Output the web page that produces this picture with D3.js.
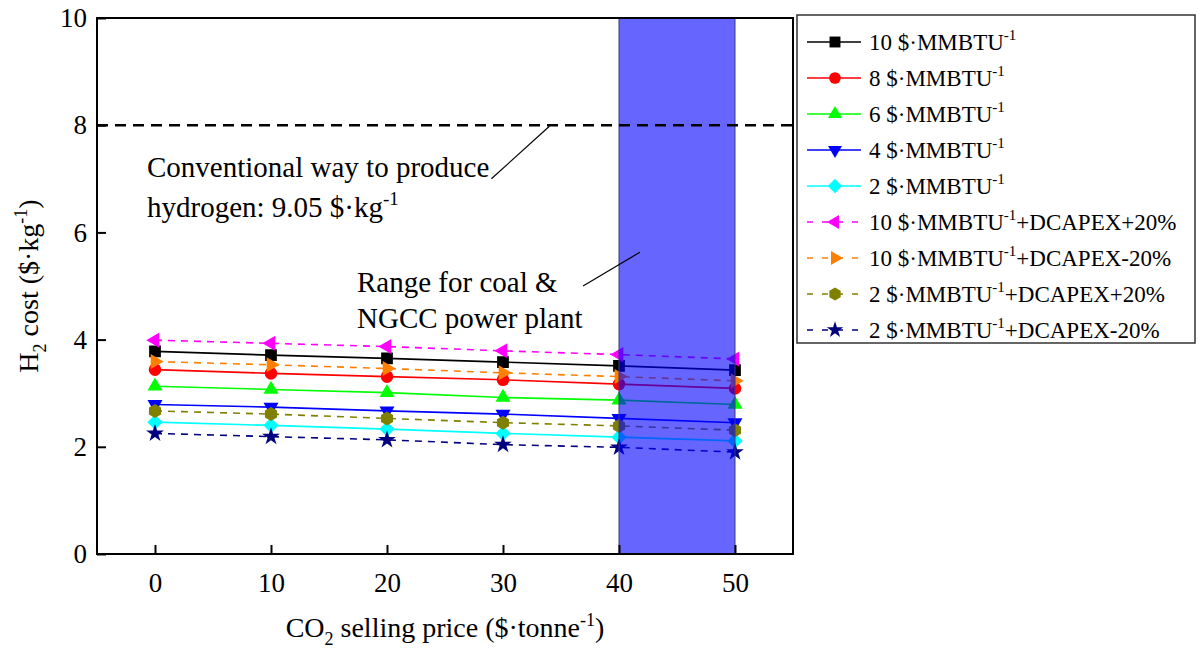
<!DOCTYPE html>
<html>
<head>
<meta charset="utf-8">
<script src="https://cdn.jsdelivr.net/npm/d3@7"></script>
<style>
  html, body { margin: 0; padding: 0; background: #fff; }
  svg, svg text { font-family: "Liberation Serif", "Times New Roman", "DejaVu Serif", serif; }
</style>
</head>
<body>
<svg id="chart" width="1198" height="648"></svg>
<script>
// CO2 selling price ($/tonne)
const prices = [0, 10, 20, 30, 40, 50];

// H2 cost ($/kg)
const ng10      = [3.78, 3.71, 3.65, 3.58, 3.51, 3.43];
const ng8       = [3.44, 3.37, 3.31, 3.25, 3.17, 3.09];
const ng6       = [3.13, 3.07, 3.01, 2.92, 2.87, 2.79];
const ng4       = [2.79, 2.74, 2.67, 2.61, 2.53, 2.45];
const ng2       = [2.46, 2.40, 2.33, 2.25, 2.18, 2.11];
const ng10Plus  = [3.99, 3.93, 3.87, 3.79, 3.72, 3.64];
const ng10Minus = [3.59, 3.53, 3.46, 3.38, 3.31, 3.23];
const ng2Plus   = [2.67, 2.61, 2.53, 2.45, 2.39, 2.31];
const ng2Minus  = [2.25, 2.19, 2.13, 2.04, 1.99, 1.90];

const seriesNames = [
  ["10 $·MMBTU", "-1", ""],
  ["8 $·MMBTU", "-1", ""],
  ["6 $·MMBTU", "-1", ""],
  ["4 $·MMBTU", "-1", ""],
  ["2 $·MMBTU", "-1", ""],
  ["10 $·MMBTU", "-1", "+DCAPEX+20%"],
  ["10 $·MMBTU", "-1", "+DCAPEX-20%"],
  ["2 $·MMBTU", "-1", "+DCAPEX+20%"],
  ["2 $·MMBTU", "-1", "+DCAPEX-20%"]
];
const seriesValues = [ng10, ng8, ng6, ng4, ng2, ng10Plus, ng10Minus, ng2Plus, ng2Minus];
const seriesColors = ["#000000", "#ff0000", "#00ff00", "#0000ff", "#00ffff",
                      "#ff00ff", "#ff8000", "#808000", "#000080"];
const seriesMarkers = ["square", "circle", "triUp", "triDown", "diamond",
                       "triLeft", "triRight", "hexagon", "star"];
const seriesDashed = [false, false, false, false, false, true, true, true, true];

const conventionalLine = 8;      // dashed reference level
const rangeBand = [40, 50];      // coal & NGCC range
const xTicks = [0, 10, 20, 30, 40, 50];
const yTicks = [0, 2, 4, 6, 8, 10];

const FONT = "'Liberation Serif', 'Times New Roman', 'DejaVu Serif', serif";

const svg = d3.select("#chart");
const margin = { left: 97, top: 18, right: 405, bottom: 94 };
const W = 1198, H = 648;
const innerW = W - margin.left - margin.right;
const innerH = H - margin.top - margin.bottom;

const x = d3.scaleLinear().domain([-5, 55]).range([0, innerW]);
const y = d3.scaleLinear().domain([0, 10]).range([innerH, 0]);

// marker shapes
function markerPath(kind, s) {
  const tri = (angle) => {
    const r = s * 0.62;
    const pts = [0, 1, 2].map(i => {
      const a = angle + i * 2 * Math.PI / 3;
      return [r * Math.cos(a), r * Math.sin(a)];
    });
    return "M" + pts.map(p => p.join(",")).join("L") + "Z";
  };
  switch (kind) {
    case "square": { const h = s * 0.42; return `M${-h},${-h}H${h}V${h}H${-h}Z`; }
    case "circle": return d3.symbol(d3.symbolCircle, Math.PI * (s * 0.45) ** 2)();
    case "triUp": return tri(-Math.PI / 2);
    case "triDown": return tri(Math.PI / 2);
    case "triLeft": return tri(Math.PI);
    case "triRight": return tri(0);
    case "diamond": { const h = s * 0.55; return `M0,${-h}L${h},0L0,${h}L${-h},0Z`; }
    case "hexagon": {
      const r = s * 0.5;
      const pts = d3.range(6).map(i => {
        const a = Math.PI / 6 + i * Math.PI / 3;
        return [r * Math.cos(a), r * Math.sin(a)];
      });
      return "M" + pts.map(p => p.join(",")).join("L") + "Z";
    }
    case "star": return d3.symbol(d3.symbolStar, s * s * 0.5)();
  }
}

const root = svg.append("g").attr("transform", `translate(${margin.left},${margin.top})`);

const line = d3.line().x((d, i) => x(prices[i])).y(d => y(d));

// series lines
seriesValues.forEach((vals, k) => {
  root.append("path")
    .attr("d", line(vals))
    .attr("fill", "none")
    .attr("stroke", seriesColors[k])
    .attr("stroke-width", 1.6)
    .attr("stroke-dasharray", seriesDashed[k] ? "7,6" : null);
});

// markers
seriesValues.forEach((vals, k) => {
  root.selectAll(null).data(vals).enter().append("path")
    .attr("transform", (d, i) => `translate(${x(prices[i])},${y(d)})`)
    .attr("d", markerPath(seriesMarkers[k], 14))
    .attr("fill", seriesColors[k]);
});

// coal & NGCC range band (drawn over the lines, semi-transparent)
root.append("rect")
  .attr("x", x(rangeBand[0])).attr("y", 0)
  .attr("width", x(rangeBand[1]) - x(rangeBand[0]))
  .attr("height", innerH)
  .attr("fill", "#0000ff").attr("fill-opacity", 0.6)
  .attr("stroke", "#3a3a7a").attr("stroke-width", 1);

// conventional route reference
root.append("line")
  .attr("x1", 0).attr("x2", innerW)
  .attr("y1", y(conventionalLine)).attr("y2", y(conventionalLine))
  .attr("stroke", "#000").attr("stroke-width", 2.6)
  .attr("stroke-dasharray", "11,7");

// axes (ticks pointing inwards)
const xAxis = root.append("g").attr("transform", `translate(0,${innerH})`)
  .call(d3.axisBottom(x).tickValues(xTicks).tickSizeInner(-9).tickSizeOuter(0).tickPadding(20));
const yAxis = root.append("g")
  .call(d3.axisLeft(y).tickValues(yTicks).tickSizeInner(-9).tickSizeOuter(0).tickPadding(10));
[xAxis, yAxis].forEach(a => {
  a.attr("font-family", FONT);
  a.select(".domain").remove();
  a.selectAll(".tick line").attr("stroke", "#000").attr("stroke-width", 2);
  a.selectAll(".tick text")
    .attr("font-family", FONT)
    .attr("font-size", 27).attr("fill", "#000");
});
xAxis.selectAll(".tick text").attr("dy", "0.68em");

// frame
root.append("rect")
  .attr("x", 0).attr("y", 0).attr("width", innerW).attr("height", innerH)
  .attr("fill", "none").attr("stroke", "#000").attr("stroke-width", 2);

// axis titles
const xt = svg.append("text")
  .attr("x", margin.left + innerW / 2).attr("y", 637)
  .attr("text-anchor", "middle").attr("font-size", 28);
xt.append("tspan").text("CO");
xt.append("tspan").attr("font-size", 18).attr("dy", 8).text("2");
xt.append("tspan").attr("dy", -8).text(" selling price ($·tonne");
xt.append("tspan").attr("font-size", 18).attr("dy", -11).text("-1");
xt.append("tspan").attr("dy", 11).text(")");

const yt = svg.append("text")
  .attr("transform", `translate(38,${margin.top + innerH / 2}) rotate(-90)`)
  .attr("text-anchor", "middle").attr("font-size", 28);
yt.append("tspan").text("H");
yt.append("tspan").attr("font-size", 18).attr("dy", 8).text("2");
yt.append("tspan").attr("dy", -8).text(" cost ($·kg");
yt.append("tspan").attr("font-size", 18).attr("dy", -11).text("-1");
yt.append("tspan").attr("dy", 11).text(")");

// annotations
const ann = root.append("g").attr("font-size", 29).attr("fill", "#000");
ann.append("text").attr("x", 50).attr("y", 159).text("Conventional way to produce");
const a2 = ann.append("text").attr("x", 50).attr("y", 199);
a2.append("tspan").text("hydrogen: 9.05 $·kg");
a2.append("tspan").attr("font-size", 19).attr("dy", -12).text("-1");
root.append("line")
  .attr("x1", x(29)).attr("y1", y(7.0))
  .attr("x2", x(34)).attr("y2", y(7.98))
  .attr("stroke", "#000").attr("stroke-width", 1.2);

ann.append("text").attr("x", 260).attr("y", 274).text("Range for coal &");
ann.append("text").attr("x", 260).attr("y", 310).text("NGCC power plant");
root.append("line")
  .attr("x1", x(36.9)).attr("y1", y(5.0))
  .attr("x2", x(41.8)).attr("y2", y(5.63))
  .attr("stroke", "#000").attr("stroke-width", 1.2);

// legend
const lg = svg.append("g").attr("transform", "translate(797,15)");
lg.append("rect").attr("x", 0).attr("y", 0).attr("width", 398).attr("height", 328)
  .attr("fill", "#fff").attr("stroke", "#333").attr("stroke-width", 1.5);
seriesNames.forEach((nm, k) => {
  const gy = 27 + k * 36;
  const g = lg.append("g").attr("transform", `translate(0,${gy})`);
  g.append("line").attr("x1", 10).attr("x2", 64).attr("y1", 0).attr("y2", 0)
    .attr("stroke", seriesColors[k]).attr("stroke-width", 1.6)
    .attr("stroke-dasharray", seriesDashed[k] ? "6,9" : null);
  g.append("path").attr("transform", "translate(38,0)")
    .attr("d", markerPath(seriesMarkers[k], 13)).attr("fill", seriesColors[k]);
  const t = g.append("text").attr("x", 72).attr("y", 8).attr("font-size", 23);
  t.append("tspan").text(nm[0]);
  t.append("tspan").attr("font-size", 15).attr("dy", -10).text(nm[1]);
  t.append("tspan").attr("dy", 10).text(nm[2]);
});
</script>
</body>
</html>
